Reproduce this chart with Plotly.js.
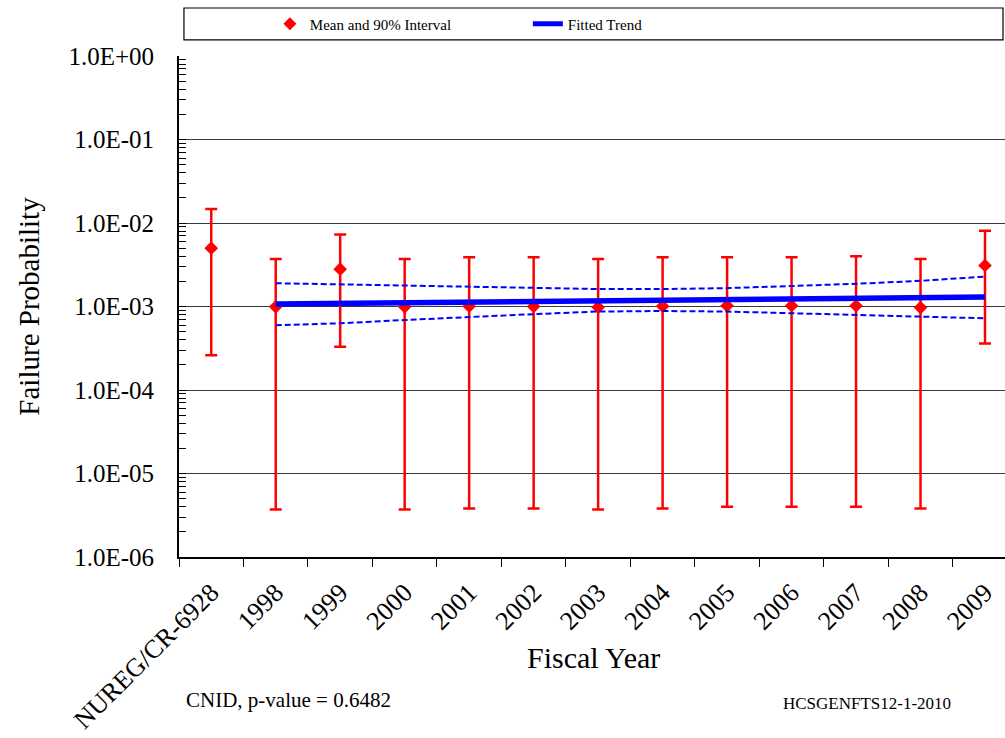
<!DOCTYPE html>
<html>
<head>
<meta charset="utf-8">
<script src="https://cdn.plot.ly/plotly-3.0.1.min.js"></script>
<style>
  html, body { margin: 0; padding: 0; background: #fff; }
  #chart { width: 1005px; height: 738px; }
</style>
</head>
<body>
<div id="chart"></div>
<script>
// Failure probability by fiscal year, with 90% intervals and fitted trend
const categories = ['NUREG/CR-6928', '1998', '1999', '2000', '2001', '2002', '2003',
                    '2004', '2005', '2006', '2007', '2008', '2009'];
const meanVals  = [5.0e-3, 0.99e-3, 2.8e-3, 0.99e-3, 1.01e-3, 1.0e-3, 0.98e-3,
                   1.01e-3, 1.02e-3, 1.02e-3, 1.02e-3, 0.97e-3, 3.1e-3];
const upperVals = [1.47e-2, 3.7e-3, 7.3e-3, 3.7e-3, 3.9e-3, 3.9e-3, 3.7e-3,
                   3.9e-3, 3.9e-3, 3.9e-3, 4.0e-3, 3.7e-3, 8.1e-3];
const lowerVals = [2.6e-4, 3.7e-6, 3.3e-4, 3.7e-6, 3.8e-6, 3.8e-6, 3.7e-6,
                   3.8e-6, 4.0e-6, 4.0e-6, 4.0e-6, 3.8e-6, 3.6e-4];

const trendYears = ['1998', '1999', '2000', '2001', '2002', '2003',
                    '2004', '2005', '2006', '2007', '2008', '2009'];
const trendVals  = [1.07e-3, 1.09e-3, 1.10e-3, 1.12e-3, 1.14e-3, 1.16e-3,
                    1.18e-3, 1.20e-3, 1.22e-3, 1.24e-3, 1.27e-3, 1.30e-3];
const trendUpper = [1.90e-3, 1.84e-3, 1.77e-3, 1.70e-3, 1.65e-3, 1.62e-3,
                    1.62e-3, 1.66e-3, 1.76e-3, 1.87e-3, 2.03e-3, 2.28e-3];
const trendLower = [5.96e-4, 6.3e-4, 6.89e-4, 7.5e-4, 8.1e-4, 8.7e-4,
                    8.83e-4, 8.7e-4, 8.3e-4, 7.9e-4, 7.5e-4, 7.22e-4];

const yTickVals = [1e0, 1e-1, 1e-2, 1e-3, 1e-4, 1e-5, 1e-6];
const yTickText = ['1.0E+00', '1.0E-01', '1.0E-02', '1.0E-03', '1.0E-04', '1.0E-05', '1.0E-06'];

const SERIF = '"Liberation Serif", "Times New Roman", serif';
const RED = '#ff0000';
const BLUE = '#0000ff';

const traces = [
  {
    x: categories, y: meanVals, type: 'scatter', mode: 'markers',
    marker: { symbol: 'diamond', size: 10.5, color: RED },
    error_y: {
      type: 'data', symmetric: false,
      array: upperVals.map((u, i) => u - meanVals[i]),
      arrayminus: lowerVals.map((l, i) => meanVals[i] - l),
      color: RED, thickness: 2.5, width: 6
    },
    showlegend: false
  },
  {
    x: trendYears, y: trendUpper, type: 'scatter', mode: 'lines',
    line: { color: BLUE, width: 2, dash: '6px,3px' },
    showlegend: false, hoverinfo: 'skip'
  },
  {
    x: trendYears, y: trendLower, type: 'scatter', mode: 'lines',
    line: { color: BLUE, width: 2, dash: '6px,3px' },
    showlegend: false, hoverinfo: 'skip'
  },
  {
    x: trendYears, y: trendVals, type: 'scatter', mode: 'lines',
    line: { color: BLUE, width: 5.5 },
    showlegend: false
  },
  // legend entries
  {
    x: [null], y: [null], type: 'scatter', mode: 'markers',
    name: 'Mean and 90% Interval',
    marker: { symbol: 'diamond', size: 10, color: RED }
  },
  {
    x: [null], y: [null], type: 'scatter', mode: 'lines',
    name: 'Fitted Trend',
    line: { color: BLUE, width: 5 }
  }
];

const layout = {
  width: 1005, height: 738,
  margin: { l: 179, r: 0, t: 56, b: 181 },
  paper_bgcolor: '#ffffff', plot_bgcolor: '#ffffff',
  font: { family: SERIF, color: '#000' },
  showlegend: true,
  legend: {
    orientation: 'h', x: 0.11, y: 1.097, xanchor: 'left', yanchor: 'top',
    font: { family: SERIF, size: 15, color: '#000' },
    bgcolor: 'rgba(0,0,0,0)', borderwidth: 0,
    entrywidth: 213, entrywidthmode: 'pixels', itemwidth: 30
  },
  xaxis: {
    type: 'category', range: [-0.5, 12.31],
    categoryorder: 'array', categoryarray: categories,
    showline: true, linecolor: '#000', linewidth: 2,
    ticks: 'outside', ticklen: 8, tickwidth: 1, tickcolor: '#000',
    tickson: 'boundaries', showgrid: false, zeroline: false,
    ticklabelstandoff: 8,
    tickangle: -45, tickfont: { family: SERIF, size: 26, color: '#000' }
  },
  yaxis: {
    type: 'log', range: [-6, 0],
    tickvals: yTickVals, ticktext: yTickText,
    showline: true, linecolor: '#000', linewidth: 2,
    ticks: 'inside', ticklen: 7, tickcolor: '#000',
    showgrid: true, gridcolor: '#3a3a3a', gridwidth: 1,
    zeroline: false, ticklabelstandoff: 18,
    tickfont: { family: SERIF, size: 25, color: '#000' },
    minor: { dtick: 'D1', ticks: 'inside', ticklen: 7, tickcolor: '#000', showgrid: false },
    title: { text: 'Failure Probability', font: { family: SERIF, size: 29, color: '#000' }, standoff: 20 }
  },
  shapes: [
    {
      type: 'rect', xref: 'paper', yref: 'paper',
      x0: 0.006, x1: 0.9976, y0: 1.032, y1: 1.0958,
      line: { color: '#000', width: 1.2 }, fillcolor: 'rgba(0,0,0,0)'
    }
  ],
  annotations: [
    {
      text: 'Fiscal Year', xref: 'paper', yref: 'paper',
      x: 0.502, y: -0.2, xanchor: 'center', yanchor: 'middle', showarrow: false,
      font: { family: SERIF, size: 30, color: '#000' }
    },
    {
      text: 'CNID, p-value = 0.6482', xref: 'paper', yref: 'paper',
      x: 0.006, y: -0.285, xanchor: 'left', yanchor: 'middle', showarrow: false,
      font: { family: SERIF, size: 21, color: '#000' }
    },
    {
      text: 'HCSGENFTS12-1-2010', xref: 'paper', yref: 'paper',
      x: 0.937, y: -0.292, xanchor: 'right', yanchor: 'middle', showarrow: false,
      font: { family: SERIF, size: 17, color: '#000' }
    }
  ]
};

Plotly.newPlot('chart', traces, layout, { displayModeBar: false, staticPlot: true });
</script>
</body>
</html>
